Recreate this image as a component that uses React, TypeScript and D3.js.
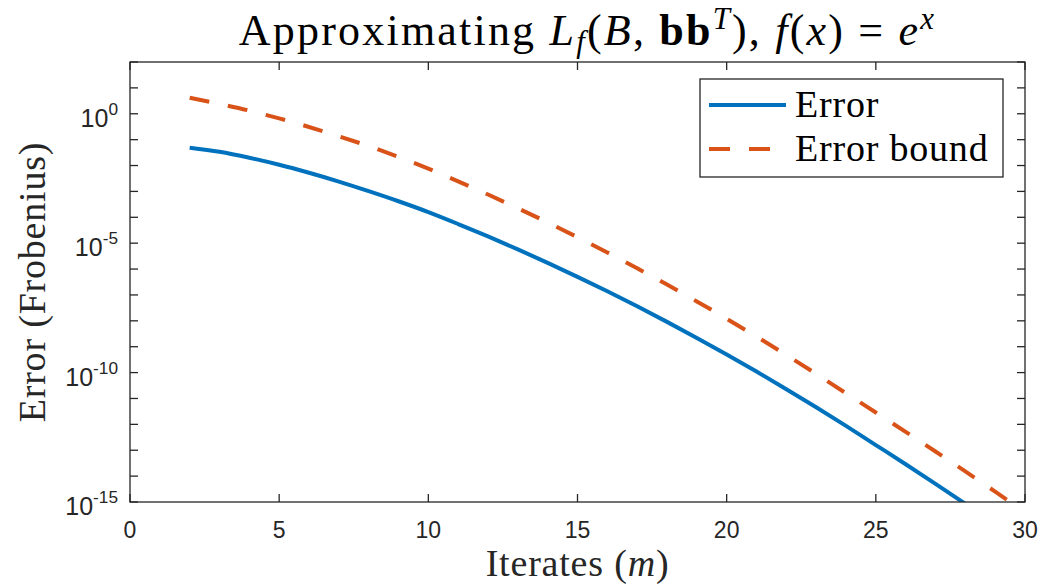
import React from "react";
import * as d3 from "d3";

// iterates m and log10 of the Frobenius error
const errIters = d3.range(2, 29);
const errLog = [
  -1.31, -1.47, -1.7, -1.97, -2.28, -2.62, -2.99, -3.38, -3.8, -4.26, -4.74, -5.24, -5.76, -6.3,
  -6.86, -7.44, -8.04, -8.66, -9.3, -9.96, -10.64, -11.34, -12.06, -12.8, -13.54, -14.3, -15.07,
];
const boundIters = d3.range(2, 31);
const boundLog = [
  0.62, 0.38, 0.12, -0.18, -0.51, -0.87, -1.25, -1.67, -2.12, -2.61, -3.12, -3.65, -4.2, -4.77,
  -5.36, -5.97, -6.6, -7.25, -7.92, -8.61, -9.32, -10.05, -10.8, -11.54, -12.29, -13.05, -13.82,
  -14.6, -15.39,
];

const xTicks = [0, 5, 10, 15, 20, 25, 30];
const yLabelExps = [-15, -10, -5, 0];
const yMinorExps = d3.range(-15, 3);
const legendLabels = ["Error", "Error bound"];

const W = 1042;
const H = 586;
const left = 130, right = 1025, top = 62, bottom = 502;
const AX = "#262626";
const BLUE = "#0072BD";
const ORANGE = "#D95319";
const SERIF = "'Liberation Serif', 'Times New Roman', serif";
const SANS = "'Liberation Sans', Arial, Helvetica, sans-serif";
const FS = 38;
const TITLE_FS = 44;
const TFS = 23;

export default function App() {
  const x = d3.scaleLinear().domain([0, 30]).range([left, right]);
  const y = d3.scaleLog().domain([1e-15, 1e2]).range([bottom, top]);

  const line = d3
    .line<[number, number]>()
    .x((d) => x(d[0]))
    .y((d) => y(Math.pow(10, d[1])))
    .curve(d3.curveMonotoneX);

  const errData = errIters.map((m, i) => [m, errLog[i]] as [number, number]);
  const boundData = boundIters.map((m, i) => [m, boundLog[i]] as [number, number]);

  const tick = 8;

  return (
    <svg width={W} height={H} style={{ position: "absolute", left: 0, top: 0, background: "#fff" }}>
      <defs>
        <clipPath id="plotClip">
          <rect x={left} y={top} width={right - left} height={bottom - top} />
        </clipPath>
      </defs>

      {/* title */}
      <text
        x={(left + right) / 2 + 10}
        y={45}
        textAnchor="middle"
        fontFamily={SERIF}
        fontSize={TITLE_FS}
        letterSpacing={2.2}
        fill="#000"
      >
        <tspan>Approximating </tspan>
        <tspan fontStyle="italic">L</tspan>
        <tspan fontStyle="italic" fontSize={TITLE_FS * 0.7} dy={7}>f</tspan>
        <tspan dy={-7}>(</tspan>
        <tspan fontStyle="italic">B</tspan>
        <tspan>, </tspan>
        <tspan fontWeight="bold">bb</tspan>
        <tspan fontStyle="italic" fontSize={TITLE_FS * 0.7} dy={-16}>T</tspan>
        <tspan dy={16}>), </tspan>
        <tspan fontStyle="italic">f</tspan>
        <tspan>(</tspan>
        <tspan fontStyle="italic">x</tspan>
        <tspan>) = </tspan>
        <tspan fontStyle="italic">e</tspan>
        <tspan fontStyle="italic" fontSize={TITLE_FS * 0.7} dy={-16}>x</tspan>
      </text>

      {/* lines */}
      <g clipPath="url(#plotClip)" fill="none">
        <path d={line(errData) || ""} stroke={BLUE} strokeWidth={4} />
        <path d={line(boundData) || ""} stroke={ORANGE} strokeWidth={4} strokeDasharray="20 19" />
      </g>

      {/* axes box */}
      <rect x={left} y={top} width={right - left} height={bottom - top} fill="none" stroke={AX} strokeWidth={1.3} />

      {/* x ticks */}
      {xTicks.map((t) => (
        <g key={"x" + t}>
          <line x1={x(t)} x2={x(t)} y1={bottom} y2={bottom - tick} stroke={AX} strokeWidth={1.3} />
          <line x1={x(t)} x2={x(t)} y1={top} y2={top + tick} stroke={AX} strokeWidth={1.3} />
          <text x={x(t)} y={538} textAnchor="middle" fontFamily={SANS} fontSize={TFS} fill={AX}>
            {t}
          </text>
        </g>
      ))}

      {/* y ticks */}
      {yMinorExps.map((e) => {
        const yy = y(Math.pow(10, e));
        return (
          <g key={"y" + e}>
            <line x1={left} x2={left + tick} y1={yy} y2={yy} stroke={AX} strokeWidth={1.3} />
            <line x1={right} x2={right - tick} y1={yy} y2={yy} stroke={AX} strokeWidth={1.3} />
          </g>
        );
      })}
      {yLabelExps.map((e) => {
        const yy = y(Math.pow(10, e));
        return (
          <text key={"yl" + e} x={118} y={yy + 13} textAnchor="end" fontFamily={SANS} fontSize={TFS + 2} fill={AX}>
            <tspan>10</tspan>
            <tspan fontSize={TFS * 0.75} dy={-12}>{e}</tspan>
          </text>
        );
      })}

      {/* axis labels */}
      <text
        x={(left + right) / 2}
        y={576}
        textAnchor="middle"
        fontFamily={SERIF}
        fontSize={FS}
        letterSpacing={0.8}
        fill={AX}
      >
        <tspan>Iterates (</tspan>
        <tspan fontStyle="italic">m</tspan>
        <tspan>)</tspan>
      </text>
      <text
        transform={`translate(45, ${(top + bottom) / 2}) rotate(-90)`}
        textAnchor="middle"
        fontFamily={SERIF}
        fontSize={FS}
        letterSpacing={0.8}
        fill={AX}
      >
        Error (Frobenius)
      </text>

      {/* legend */}
      <g>
        <rect x={700} y={79} width={303} height={98} fill="#fff" stroke={AX} strokeWidth={1.3} />
        <line x1={709} x2={786} y1={105} y2={105} stroke={BLUE} strokeWidth={4} />
        <line x1={709} x2={786} y1={149} y2={149} stroke={ORANGE} strokeWidth={4} strokeDasharray="21 19" />
        {legendLabels.map((l, i) => (
          <text key={l} x={795} y={117 + i * 44} fontFamily={SERIF} fontSize={FS} letterSpacing={0.8} fill="#000">
            {l}
          </text>
        ))}
      </g>
    </svg>
  );
}
